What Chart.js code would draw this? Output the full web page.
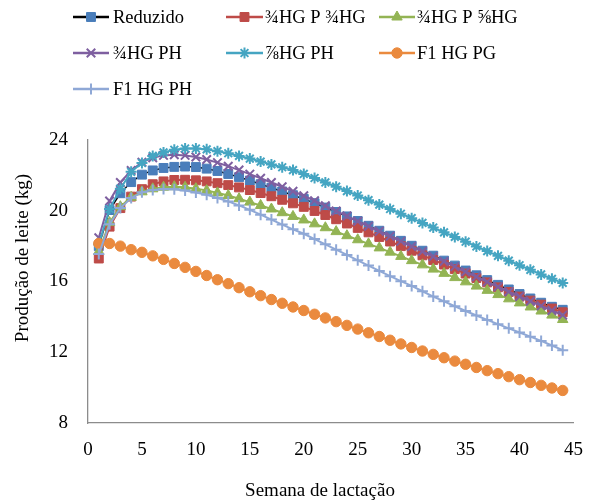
<!DOCTYPE html>
<html lang="pt">
<head>
    <meta charset="UTF-8">
    <title>Produção de leite</title>
    <script src="https://cdn.jsdelivr.net/npm/chart.js"></script>
    <style>
        body { margin: 0; background: #fff; }
        #wrap { width: 599px; height: 500px; position: relative; }
    </style>
</head>
<body>
    <div id="wrap"><canvas id="milkChart"></canvas></div>

    <script>
        // Semana de lactação
        const weeks = [1, 2, 3, 4, 5, 6, 7, 8, 9, 10, 11, 12, 13, 14, 15, 16, 17, 18, 19, 20, 21, 22,
                       23, 24, 25, 26, 27, 28, 29, 30, 31, 32, 33, 34, 35, 36, 37, 38, 39, 40, 41, 42, 43, 44];

        // Produção de leite (kg) por grupo genético
        const reduzido = [18.0, 20.04, 20.99, 21.62, 22.04, 22.28, 22.42, 22.48, 22.5, 22.47,
            22.38, 22.25, 22.08, 21.9, 21.71, 21.5, 21.3, 21.09, 20.88, 20.67,
            20.43, 20.18, 19.93, 19.68, 19.42, 19.15, 18.87, 18.59, 18.3, 18.02,
            17.74, 17.46, 17.18, 16.9, 16.62, 16.35, 16.08, 15.81, 15.55, 15.29,
            15.04, 14.8, 14.57, 14.4];
        const hg34p34 = [17.3, 19.1, 20.15, 20.8, 21.22, 21.5, 21.66, 21.74, 21.75, 21.72,
            21.66, 21.56, 21.45, 21.32, 21.17, 21.0, 20.82, 20.62, 20.42, 20.22,
            19.99, 19.76, 19.52, 19.28, 19.03, 18.78, 18.52, 18.26, 18.0, 17.74,
            17.48, 17.22, 16.96, 16.7, 16.45, 16.2, 15.95, 15.67, 15.41, 15.15,
            14.92, 14.69, 14.47, 14.26];
        const hg34p58 = [17.7, 19.33, 20.23, 20.76, 21.07, 21.24, 21.33, 21.36, 21.33, 21.25,
            21.14, 21.01, 20.86, 20.68, 20.49, 20.3, 20.1, 19.89, 19.68, 19.48,
            19.26, 19.04, 18.82, 18.59, 18.36, 18.13, 17.9, 17.66, 17.42, 17.18,
            16.94, 16.7, 16.46, 16.22, 15.98, 15.74, 15.5, 15.26, 15.02, 14.79,
            14.56, 14.33, 14.1, 13.85];
        const hg34ph = [18.47, 20.55, 21.6, 22.28, 22.74, 23.0, 23.13, 23.17, 23.13, 23.04,
            22.9, 22.72, 22.52, 22.3, 22.07, 21.84, 21.6, 21.36, 21.1, 20.85,
            20.57, 20.28, 19.99, 19.7, 19.41, 19.12, 18.84, 18.56, 18.27, 17.98,
            17.7, 17.41, 17.13, 16.84, 16.55, 16.27, 15.98, 15.7, 15.42, 15.15,
            14.88, 14.62, 14.36, 14.1];
        const hg78ph = [18.1, 20.1, 21.25, 22.2, 22.7, 23.1, 23.3, 23.45, 23.52, 23.52,
            23.47, 23.37, 23.25, 23.1, 22.95, 22.78, 22.62, 22.46, 22.3, 22.08,
            21.85, 21.6, 21.36, 21.11, 20.86, 20.6, 20.35, 20.1, 19.83, 19.58,
            19.31, 19.05, 18.78, 18.52, 18.25, 17.98, 17.72, 17.45, 17.18, 16.92,
            16.66, 16.4, 16.15, 15.92];
        const f1pg = [18.15, 18.15, 18.0, 17.8, 17.65, 17.45, 17.25, 17.02, 16.8, 16.57,
            16.34, 16.1, 15.88, 15.65, 15.42, 15.2, 14.98, 14.77, 14.56, 14.36,
            14.15, 13.94, 13.73, 13.52, 13.31, 13.1, 12.89, 12.68, 12.47, 12.27,
            12.07, 11.88, 11.69, 11.5, 11.32, 11.14, 10.96, 10.79, 10.62, 10.45,
            10.29, 10.13, 9.98, 9.84];
        const f1ph = [17.55, 19.24, 20.15, 20.72, 21.04, 21.18, 21.23, 21.22, 21.14, 21.03,
            20.9, 20.72, 20.53, 20.3, 20.05, 19.78, 19.5, 19.22, 18.95, 18.7,
            18.4, 18.1, 17.8, 17.5, 17.2, 16.9, 16.6, 16.3, 16.02, 15.75,
            15.45, 15.15, 14.88, 14.6, 14.33, 14.08, 13.83, 13.59, 13.35, 13.12,
            12.88, 12.64, 12.38, 12.12];

        const seriesNames = ['Reduzido', '¾HG P ¾HG', '¾HG P ⅝HG', '¾HG PH', '⅞HG PH', 'F1 HG PG', 'F1 HG PH'];
        const seriesValues = [reduzido, hg34p34, hg34p58, hg34ph, hg78ph, f1pg, f1ph];

        const xTicks = [0, 45, 5];   // min, max, step
        const yTicks = [8, 24, 4];

        const FONT = '"Liberation Serif", "Times New Roman", serif';

        // line colour, marker colour, marker style, marker radius, line width
        const styles = [
            { line: '#000000', mark: '#4A7EBB', shape: 'rect', r: 6.3, lw: 1.5 },
            { line: '#BE4B48', mark: '#BE4B48', shape: 'rect', r: 6.3, lw: 2 },
            { line: '#93B454', mark: '#93B454', shape: 'triangle', r: 6, lw: 2 },
            { line: '#7E5FA0', mark: '#7E5FA0', shape: 'crossRot', r: 6, lw: 2 },
            { line: '#45A5C2', mark: '#45A5C2', shape: 'star', r: 5.5, lw: 2 },
            { line: '#EA8A3E', mark: '#EA8A3E', shape: 'circle', r: 5.2, lw: 2 },
            { line: '#8FA8D6', mark: '#8FA8D6', shape: 'cross', r: 5.5, lw: 2 }
        ];

        const datasets = seriesNames.map((name, i) => {
            const s = styles[i];
            const stroked = ['crossRot', 'star', 'cross'].includes(s.shape);
            return {
                label: name,
                data: weeks.map((w, k) => ({ x: w, y: seriesValues[i][k] })),
                borderColor: s.line,
                borderWidth: s.lw,
                backgroundColor: s.mark,
                pointStyle: s.shape,
                pointRadius: s.r,
                pointBackgroundColor: s.mark,
                pointBorderColor: s.mark,
                pointBorderWidth: stroked ? 2 : 1,
                tension: 0,
                fill: false,
                order: seriesNames.length - i   // last series on top, like the original
            };
        });

        // Legend in three columns + axis titles
        const extras = {
            id: 'extras',
            afterDraw(chart) {
                const ctx = chart.ctx;
                const cols = [[73, 109, 113], [226, 263, 265], [379, 415, 417]];
                const rows = [17, 53, 89];
                ctx.save();
                ctx.font = '18.5px ' + FONT;
                ctx.textBaseline = 'middle';
                ctx.textAlign = 'left';
                datasets.forEach((ds, i) => {
                    const c = cols[i % 3], y = rows[Math.floor(i / 3)];
                    ctx.strokeStyle = ds.borderColor;
                    ctx.lineWidth = 2.5;
                    ctx.beginPath();
                    ctx.moveTo(c[0], y);
                    ctx.lineTo(c[1], y);
                    ctx.stroke();
                    ctx.fillStyle = ds.pointBackgroundColor;
                    ctx.strokeStyle = ds.pointBorderColor;
                    ctx.lineWidth = ds.pointBorderWidth;
                    Chart.helpers.drawPoint(ctx, { pointStyle: ds.pointStyle, radius: ds.pointRadius, rotation: 0, borderWidth: ds.pointBorderWidth }, (c[0] + c[1]) / 2, y);
                    ctx.fillStyle = '#000';
                    ctx.fillText(ds.label, c[2], y + 1);
                });

                ctx.font = '19px ' + FONT;
                ctx.textAlign = 'center';
                ctx.fillText('Semana de lactação', 320, 491);
                ctx.translate(23, 258);
                ctx.rotate(-Math.PI / 2);
                ctx.fillText('Produção de leite (kg)', 0, 0);
                ctx.restore();
            }
        };

        new Chart(document.getElementById('milkChart'), {
            type: 'line',
            data: { datasets: datasets },
            plugins: [extras],
            options: {
                responsive: true,
                maintainAspectRatio: false,
                animation: false,
                layout: { padding: { left: 0, right: 20, top: 140, bottom: 0 } },
                plugins: { legend: { display: false }, tooltip: { enabled: false } },
                scales: {
                    x: {
                        type: 'linear',
                        min: xTicks[0], max: xTicks[1],
                        grid: { display: false, drawTicks: false },
                        border: { display: true, color: '#8C8C8C', width: 1.3 },
                        ticks: { stepSize: xTicks[2], padding: 16, color: '#000', font: { family: FONT, size: 19 } },
                        afterFit: (s) => { s.height = 77; }
                    },
                    y: {
                        min: yTicks[0], max: yTicks[1],
                        grid: { display: false, drawTicks: false },
                        border: { display: true, color: '#8C8C8C', width: 1.3 },
                        ticks: { stepSize: yTicks[2], padding: 20, color: '#000', font: { family: FONT, size: 19 } },
                        afterFit: (s) => { s.width = 88; }
                    }
                }
            }
        });
    </script>
</body>
</html>
